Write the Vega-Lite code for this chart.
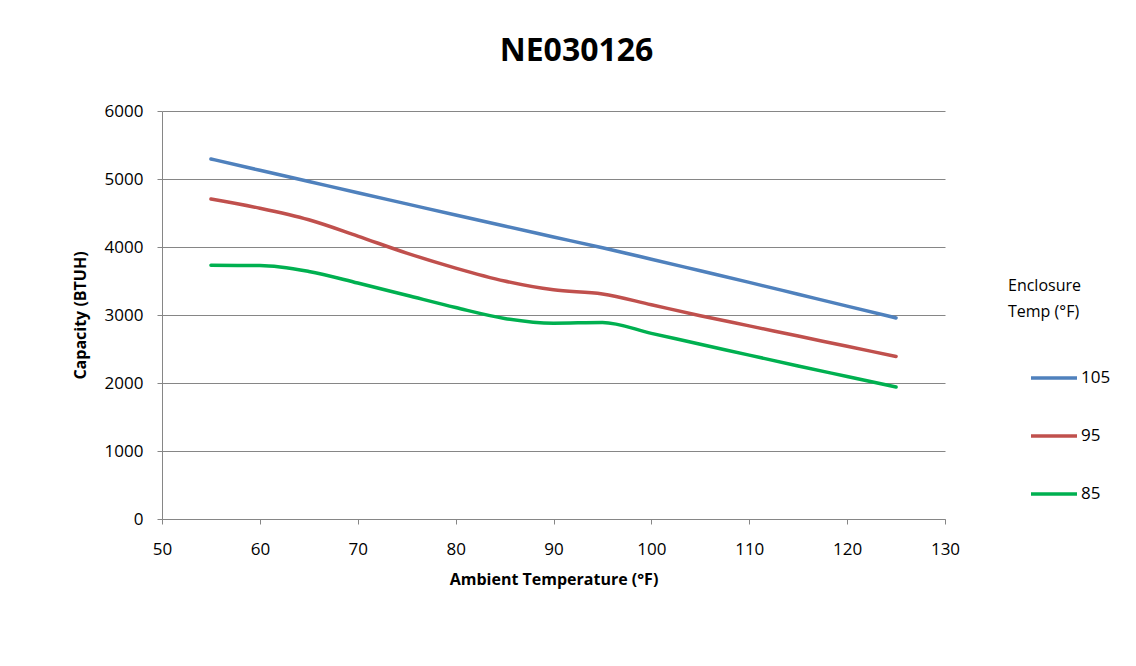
{
  "$schema": "https://vega.github.io/schema/vega-lite/v6.json",
  "width": 783,
  "height": 408,
  "autosize": {"type": "none"},
  "padding": {"left": 162, "top": 111, "right": 191, "bottom": 147},
  "background": "white",
  "title": {
    "text": "NE030126",
    "font": "Open Sans",
    "fontSize": 32,
    "fontWeight": "bold",
    "color": "#000000",
    "anchor": "middle",
    "frame": "group",
    "dx": 23,
    "baseline": "alphabetic",
    "offset": 9
  },
  "data": {
    "values": [
      {"ambient": 55, "enclosure": 105, "capacity": 5295},
      {"ambient": 60, "enclosure": 105, "capacity": 5128},
      {"ambient": 65, "enclosure": 105, "capacity": 4963},
      {"ambient": 70, "enclosure": 105, "capacity": 4798},
      {"ambient": 75, "enclosure": 105, "capacity": 4634},
      {"ambient": 80, "enclosure": 105, "capacity": 4470},
      {"ambient": 85, "enclosure": 105, "capacity": 4308},
      {"ambient": 90, "enclosure": 105, "capacity": 4148},
      {"ambient": 95, "enclosure": 105, "capacity": 3988},
      {"ambient": 100, "enclosure": 105, "capacity": 3820},
      {"ambient": 105, "enclosure": 105, "capacity": 3650},
      {"ambient": 110, "enclosure": 105, "capacity": 3480},
      {"ambient": 115, "enclosure": 105, "capacity": 3305},
      {"ambient": 120, "enclosure": 105, "capacity": 3130},
      {"ambient": 125, "enclosure": 105, "capacity": 2957},
      {"ambient": 55, "enclosure": 95, "capacity": 4705},
      {"ambient": 60, "enclosure": 95, "capacity": 4570},
      {"ambient": 65, "enclosure": 95, "capacity": 4400},
      {"ambient": 70, "enclosure": 95, "capacity": 4160},
      {"ambient": 75, "enclosure": 95, "capacity": 3910},
      {"ambient": 80, "enclosure": 95, "capacity": 3690},
      {"ambient": 85, "enclosure": 95, "capacity": 3500},
      {"ambient": 90, "enclosure": 95, "capacity": 3370},
      {"ambient": 95, "enclosure": 95, "capacity": 3310},
      {"ambient": 100, "enclosure": 95, "capacity": 3150},
      {"ambient": 105, "enclosure": 95, "capacity": 2990},
      {"ambient": 110, "enclosure": 95, "capacity": 2840},
      {"ambient": 115, "enclosure": 95, "capacity": 2690},
      {"ambient": 120, "enclosure": 95, "capacity": 2540},
      {"ambient": 125, "enclosure": 95, "capacity": 2390},
      {"ambient": 55, "enclosure": 85, "capacity": 3730},
      {"ambient": 60, "enclosure": 85, "capacity": 3728},
      {"ambient": 65, "enclosure": 85, "capacity": 3640},
      {"ambient": 70, "enclosure": 85, "capacity": 3470},
      {"ambient": 75, "enclosure": 85, "capacity": 3290},
      {"ambient": 80, "enclosure": 85, "capacity": 3110},
      {"ambient": 85, "enclosure": 85, "capacity": 2950},
      {"ambient": 90, "enclosure": 85, "capacity": 2880},
      {"ambient": 95, "enclosure": 85, "capacity": 2890},
      {"ambient": 100, "enclosure": 85, "capacity": 2730},
      {"ambient": 105, "enclosure": 85, "capacity": 2570},
      {"ambient": 110, "enclosure": 85, "capacity": 2410},
      {"ambient": 115, "enclosure": 85, "capacity": 2250},
      {"ambient": 120, "enclosure": 85, "capacity": 2095},
      {"ambient": 125, "enclosure": 85, "capacity": 1940}
    ]
  },
  "mark": {"type": "line", "interpolate": "monotone", "strokeWidth": 3.5, "strokeCap": "round"},
  "encoding": {
    "x": {
      "field": "ambient",
      "type": "quantitative",
      "scale": {"domain": [50, 130], "nice": false, "zero": false},
      "axis": {
        "title": "Ambient Temperature (°F)",
        "values": [50, 60, 70, 80, 90, 100, 110, 120, 130],
        "format": "d",
        "grid": false,
        "labelFlush": false,
        "labelOverlap": false,
        "labelPadding": 17,
        "titlePadding": 14
      }
    },
    "y": {
      "field": "capacity",
      "type": "quantitative",
      "scale": {"domain": [0, 6000], "nice": false},
      "axis": {
        "title": "Capacity (BTUH)",
        "values": [0, 1000, 2000, 3000, 4000, 5000, 6000],
        "format": "d",
        "grid": true,
        "labelOverlap": false,
        "labelPadding": 14,
        "titlePadding": 16
      }
    },
    "color": {
      "field": "enclosure",
      "type": "nominal",
      "scale": {"domain": [105, 95, 85], "range": ["#4F81BD", "#C0504D", "#00B050"]},
      "legend": {
        "title": ["Enclosure", "Temp (°F)"],
        "orient": "none",
        "legendX": 846,
        "legendY": 167
      }
    }
  },
  "config": {
    "view": {"stroke": null},
    "axis": {
      "domainColor": "#868686",
      "domainWidth": 1,
      "tickColor": "#868686",
      "tickSize": 5,
      "gridColor": "#868686",
      "gridWidth": 1,
      "gridOpacity": 1,
      "labelFont": "Open Sans",
      "labelFontSize": 17,
      "labelColor": "#000000",
      "titleFont": "Open Sans",
      "titleFontSize": 16,
      "titleFontWeight": "bold",
      "titleColor": "#000000"
    },
    "legend": {
      "titleFont": "Open Sans",
      "titleFontSize": 16,
      "titleFontWeight": "normal",
      "titleColor": "#000000",
      "titleLineHeight": 26,
      "titlePadding": 33,
      "symbolType": "stroke",
      "symbolSize": 2116,
      "symbolStrokeWidth": 3.5,
      "symbolOffset": 21,
      "labelFont": "Open Sans",
      "labelFontSize": 17,
      "labelColor": "#000000",
      "labelOffset": 2,
      "rowPadding": 25
    }
  }
}
